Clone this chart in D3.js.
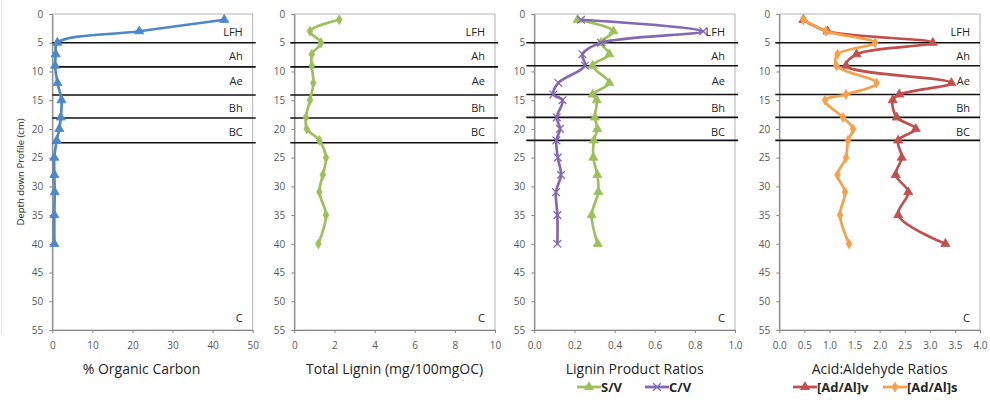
<!DOCTYPE html>
<html>
<head>
<meta charset="utf-8">
<script src="https://cdn.jsdelivr.net/npm/d3@7"></script>
<style>
  html, body { margin: 0; padding: 0; background: #fff; }
  svg { display: block; font-family: "Open Sans", "Noto Sans", sans-serif; }
</style>
</head>
<body>
<svg id="chart" width="990" height="400"></svg>
<script>
// Sampling depths (cm) of the soil profile
const depthsA = [1, 3, 5, 7, 9, 12, 15, 18, 20, 22, 25, 28, 31, 35, 40];
const depthsB = [1, 3, 5, 7, 9, 12, 14, 15, 18, 20, 22, 25, 28, 31, 35, 40];

// Series values
const organicCarbon = [42.9, 21.7, 1.25, 0.85, 0.7, 1.3, 2.3, 2.1, 1.75, 1.1, 0.5, 0.5, 0.6, 0.5, 0.5];
const totalLignin   = [2.24, 0.78, 1.33, 0.87, 0.87, 0.95, 0.78, 0.58, 0.62, 1.25, 1.58, 1.42, 1.25, 1.58, 1.2];
const ratioSV = [0.216, 0.394, 0.332, 0.374, 0.291, 0.374, 0.291, 0.311, 0.302, 0.314, 0.297, 0.294, 0.314, 0.319, 0.286, 0.316];
const ratioCV = [0.233, 0.842, 0.332, 0.24, 0.252, 0.12, 0.095, 0.141, 0.112, 0.128, 0.11, 0.117, 0.133, 0.108, 0.115, 0.115];
const adAlV = [0.48, 0.96, 3.06, 1.54, 1.33, 3.43, 2.39, 2.26, 2.34, 2.72, 2.37, 2.44, 2.32, 2.57, 2.37, 3.31];
const adAlS = [0.48, 0.93, 1.91, 1.16, 1.14, 1.94, 1.33, 0.91, 1.27, 1.47, 1.37, 1.33, 1.16, 1.31, 1.21, 1.39];

// Soil horizons: boundary depths and label depths
const horizonBoundsUpper = [5, 9.2, 14.1, 18.1, 22.4];
const horizonBoundsLower = [5, 9, 14, 18, 22];
const horizonNames = ["LFH", "Ah", "Ae", "Bh", "BC"];
const horizonLabelDepths = [3.1, 7.3, 11.6, 16.2, 20.4];
const deepHorizon = "C";
const deepHorizonDepth = 52.8;

// Tick labels
const depthTicks = [0, 5, 10, 15, 20, 25, 30, 35, 40, 45, 50, 55];
const carbonTicks = [0, 10, 20, 30, 40, 50];
const ligninTicks = [0, 2, 4, 6, 8, 10];
const productTicks = [0, 0.2, 0.4, 0.6, 0.8, 1.0];
const acidTicks = [0, 0.5, 1.0, 1.5, 2.0, 2.5, 3.0, 3.5, 4.0];

const titles = ["% Organic Carbon", "Total Lignin (mg/100mgOC)", "Lignin Product Ratios", "Acid:Aldehyde Ratios"];
const depthTitle = "Depth down Profile (cm)";

const svg = d3.select("#chart");
const plotTop = 14, plotBottom = 330;
const y = d3.scaleLinear().domain([0, 55]).range([plotTop, plotBottom]);

const panels = [
  { x0: 52.3, x1: 252.7, ticks: carbonTicks, fmt: d3.format("d"), title: titles[0], titleShift: -11,
    bounds: horizonBoundsUpper, ext: [0, 3],
    series: [{ name: "%OC", depths: depthsA, values: organicCarbon, color: "#4C88CA", marker: "triangle" }] },
  { x0: 294.3, x1: 495, ticks: ligninTicks, fmt: d3.format("d"), title: titles[1], titleShift: 0,
    bounds: horizonBoundsUpper, ext: [4, 3],
    series: [{ name: "Lignin", depths: depthsA, values: totalLignin, color: "#9DC05A", marker: "diamond" }] },
  { x0: 534.3, x1: 735, ticks: productTicks, fmt: d3.format(".1f"), title: titles[2], titleShift: 0,
    bounds: horizonBoundsLower, ext: [8, 3],
    series: [
      { name: "S/V", depths: depthsB, values: ratioSV, color: "#9DC05A", marker: "triangle" },
      { name: "C/V", depths: depthsB, values: ratioCV, color: "#8468B4", marker: "times" }
    ],
    legend: [{ x: 577 }, { x: 645 }] },
  { x0: 779.3, x1: 980, ticks: acidTicks, fmt: d3.format(".1f"), title: titles[3], titleShift: 0,
    bounds: horizonBoundsLower, ext: [4, 0],
    series: [
      { name: "[Ad/Al]v", depths: depthsB, values: adAlV, color: "#C0504D", marker: "triangle" },
      { name: "[Ad/Al]s", depths: depthsB, values: adAlS, color: "#F7A04A", marker: "diamond" }
    ],
    legend: [{ x: 793 }, { x: 883 }] }
];

// faint frame edge at the far left
svg.append("line").attr("x1", 1.5).attr("x2", 1.5).attr("y1", 0).attr("y2", 334)
  .attr("stroke", "#e4e4e4").attr("stroke-width", 1);

function markerPath(kind) {
  if (kind === "triangle") return d3.symbol(d3.symbolTriangle, 36)();
  if (kind === "diamond") return d3.symbol(d3.symbolDiamond, 28)();
  return d3.symbol(d3.symbolTimes || d3.symbolCross, 40)();
}

function drawMarker(g, kind, color, cx, cy) {
  const p = g.append("path").attr("d", markerPath(kind))
    .attr("transform", `translate(${cx},${cy})`);
  if (kind === "times") {
    p.attr("fill", "none").attr("stroke", color).attr("stroke-width", 1.3);
  } else {
    p.attr("fill", color).attr("stroke", color).attr("stroke-width", 0.8);
  }
}

panels.forEach(P => {
  const dom = [P.ticks[0], P.ticks[P.ticks.length - 1]];
  const x = d3.scaleLinear().domain(dom).range([P.x0, P.x1]);
  const g = svg.append("g");

  // plot frame (top and right)
  g.append("rect").attr("x", P.x0).attr("y", plotTop).attr("width", P.x1 - P.x0).attr("height", plotBottom - plotTop)
    .attr("fill", "none").attr("stroke", "#b4b4b4").attr("stroke-width", 1);

  // axes
  const ya = g.append("g").attr("transform", `translate(${P.x0},0)`)
    .call(d3.axisLeft(y).tickValues(depthTicks).tickSize(3).tickSizeOuter(0).tickPadding(6));
  const xa = g.append("g").attr("transform", `translate(0,${plotBottom})`)
    .call(d3.axisBottom(x).tickValues(P.ticks).tickFormat(P.fmt).tickSize(3).tickSizeOuter(0).tickPadding(9));
  [ya, xa].forEach(a => {
    a.select(".domain").attr("stroke", "#868686").attr("stroke-width", 1.2);
    a.selectAll(".tick line").attr("stroke", "#868686");
    a.selectAll("text").attr("fill", "#595959").attr("font-size", 10)
      .attr("font-family", "'Open Sans', sans-serif");
  });

  // horizon boundaries
  g.selectAll("line.hz").data(P.bounds).enter().append("line")
    .attr("x1", P.x0 - P.ext[0]).attr("x2", P.x1 + P.ext[1])
    .attr("y1", d => y(d)).attr("y2", d => y(d))
    .attr("stroke", "#111").attr("stroke-width", 1.6);

  // series
  P.series.forEach(s => {
    const pts = s.depths.map((d, i) => [x(s.values[i]), y(d)]);
    g.append("path").attr("d", d3.line().curve(d3.curveCatmullRom.alpha(0.5))(pts))
      .attr("fill", "none").attr("stroke", s.color).attr("stroke-width", 2.7)
      .attr("stroke-linejoin", "round").attr("stroke-linecap", "round");
    pts.forEach(p => drawMarker(g, s.marker, s.color, p[0], p[1]));
  });

  // horizon names
  g.selectAll("text.hn").data(horizonNames).enter().append("text")
    .attr("x", P.x1 - 10).attr("y", (d, i) => y(horizonLabelDepths[i]))
    .attr("text-anchor", "end").attr("dominant-baseline", "central")
    .attr("font-size", 11).attr("fill", "#262626").text(d => d);
  g.append("text").attr("x", P.x1 - 10).attr("y", y(deepHorizonDepth))
    .attr("text-anchor", "end").attr("dominant-baseline", "central")
    .attr("font-size", 11).attr("fill", "#262626").text(deepHorizon);

  // axis title
  g.append("text").attr("x", (P.x0 + P.x1) / 2 + P.titleShift).attr("y", 374)
    .attr("text-anchor", "middle").attr("font-size", 14).attr("fill", "#262626").text(P.title);

  // legend
  if (P.legend) {
    P.series.forEach((s, i) => {
      const lx = P.legend[i].x, ly = 387;
      g.append("line").attr("x1", lx).attr("x2", lx + 24).attr("y1", ly).attr("y2", ly)
        .attr("stroke", s.color).attr("stroke-width", 2.8);
      drawMarker(g, s.marker, s.color, lx + 12, ly);
      g.append("text").attr("x", lx + 24).attr("y", ly).attr("dominant-baseline", "central")
        .attr("font-size", 13).attr("font-weight", "bold").attr("fill", "#262626").text(s.name);
    });
  }
});

// depth axis title
svg.append("text").attr("transform", `translate(20,172) rotate(-90)`)
  .attr("text-anchor", "middle").attr("dominant-baseline", "central")
  .attr("font-size", 9.5).attr("fill", "#262626").text(depthTitle);
</script>
</body>
</html>
